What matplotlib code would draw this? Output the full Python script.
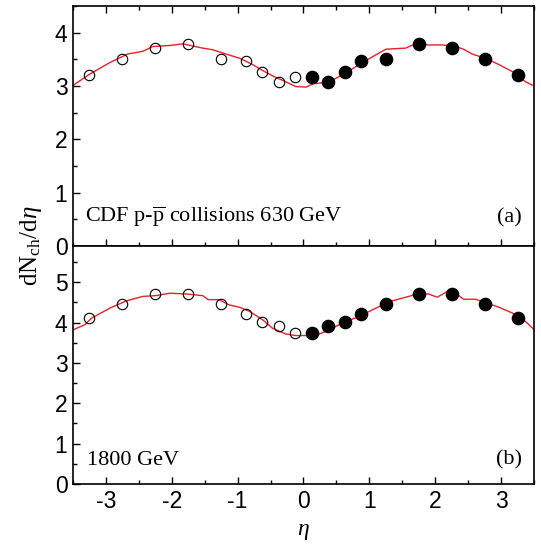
import matplotlib
matplotlib.use("Agg")
import matplotlib.pyplot as plt
from matplotlib.ticker import MultipleLocator

plt.rcParams['font.family'] = ['Liberation Sans', 'DejaVu Sans']
plt.rcParams['mathtext.fontset'] = 'custom'
plt.rcParams['mathtext.rm'] = 'Liberation Serif'
plt.rcParams['mathtext.it'] = 'Liberation Serif:italic'
plt.rcParams['mathtext.bf'] = 'Liberation Serif:bold'

# ---- data ----
eta_neg = [-3.25, -2.75, -2.25, -1.75, -1.25, -0.875, -0.625, -0.375, -0.125]
eta_pos = [0.125, 0.375, 0.625, 0.875, 1.25, 1.75, 2.25, 2.75, 3.25]

a_open = [3.21, 3.51, 3.71, 3.78, 3.51, 3.46, 3.27, 3.07, 3.16]
a_fill = [3.16, 3.07, 3.27, 3.46, 3.51, 3.78, 3.71, 3.51, 3.21]

b_open = [4.12, 4.46, 4.71, 4.71, 4.46, 4.21, 4.01, 3.91, 3.75]
b_fill = [3.75, 3.91, 4.01, 4.21, 4.46, 4.71, 4.71, 4.46, 4.12]

a_curve_x = [-3.50, -3.25, -2.94, -2.67, -2.44, -2.29, -2.03, -1.83, -1.68, -1.53,
             -1.38, -1.18, -0.97, -0.77, -0.62, -0.47, -0.27, -0.12, 0.04, 0.14,
             0.29, 0.44, 0.64, 0.84, 1.05, 1.25, 1.55, 1.70, 1.90, 2.11,
             2.31, 2.43, 2.56, 2.76, 2.97, 3.17, 3.37, 3.50]
a_curve_y = [3.01, 3.22, 3.44, 3.60, 3.65, 3.74, 3.76, 3.79, 3.75, 3.71,
             3.68, 3.60, 3.52, 3.40, 3.29, 3.19, 3.08, 2.99, 2.98, 3.04,
             3.06, 3.11, 3.24, 3.40, 3.55, 3.69, 3.71, 3.79, 3.77, 3.77,
             3.74, 3.69, 3.60, 3.52, 3.40, 3.27, 3.08, 3.00]

b_curve_x = [-3.50, -3.32, -3.22, -2.94, -2.69, -2.44, -2.24, -2.03, -1.78, -1.53,
             -1.45, -1.28, -1.13, -0.97, -0.82, -0.62, -0.47, -0.27, -0.12, 0.04,
             0.24, 0.39, 0.59, 0.84, 1.05, 1.30, 1.55, 1.73, 1.90, 2.03,
             2.18, 2.31, 2.43, 2.61, 2.76, 2.97, 3.17, 3.37, 3.50]
b_curve_y = [3.82, 3.95, 4.11, 4.36, 4.54, 4.65, 4.67, 4.73, 4.71, 4.67,
             4.57, 4.57, 4.44, 4.38, 4.28, 4.07, 3.86, 3.72, 3.68, 3.68,
             3.72, 3.82, 3.99, 4.15, 4.32, 4.52, 4.63, 4.71, 4.71, 4.63,
             4.77, 4.73, 4.58, 4.58, 4.50, 4.38, 4.24, 4.03, 3.83]

x_ticks = [-3, -2, -1, 0, 1, 2, 3]
x_ticklabels = ['-3', '-2', '-1', '0', '1', '2', '3']

# ---- figure ----
fig = plt.figure(figsize=(5.41, 5.48), dpi=100)
left, right = 73 / 541, 534 / 541
top_y, mid_y, bot_y = 1 - 6 / 548, 1 - 246 / 548, 1 - 484 / 548
ax1 = fig.add_axes([left, mid_y, right - left, top_y - mid_y])
ax2 = fig.add_axes([left, bot_y, right - left, mid_y - bot_y], sharex=ax1)

def style(ax, top=True):
    ax.set_xlim(-3.5, 3.5)
    ax.xaxis.set_major_locator(MultipleLocator(1))
    ax.xaxis.set_minor_locator(MultipleLocator(0.5))
    ax.yaxis.set_major_locator(MultipleLocator(1))
    ax.yaxis.set_minor_locator(MultipleLocator(0.5))
    ax.tick_params(which='both', direction='in', top=top, right=False,
                   labelsize=16.5, width=1.0)
    ax.tick_params(which='major', length=5, pad=4)
    ax.tick_params(which='minor', length=3)
    for s in ax.spines.values():
        s.set_linewidth(1.2)

for ax, xo, yo, xf, yf, cx, cy in [
        (ax1, eta_neg, a_open, eta_pos, a_fill, a_curve_x, a_curve_y),
        (ax2, eta_neg, b_open, eta_pos, b_fill, b_curve_x, b_curve_y)]:
    ax.plot(cx, cy, color='#e8202a', lw=1.0, zorder=2)
    ax.plot(xo, yo, 'o', ms=7.5, mfc='none', mec='black', mew=0.8, zorder=3)
    ax.plot(xf, yf, 'o', ms=8.8, mfc='black', mec='black', zorder=3)

style(ax1, top=True)
style(ax2, top=False)
ax1.set_ylim(0, 4.5)
ax2.set_ylim(0, 5.9)
ax1.tick_params(labelbottom=False)
ax2.set_xticks(x_ticks)
ax2.set_xticklabels(x_ticklabels)

ax1.text(0.026, 0.10, r'CDF p-$\overline{\mathrm{p}}$ collisions 630 GeV', transform=ax1.transAxes,
         fontsize=16, family='Liberation Serif', ha='left', va='baseline')
ax1.text(0.973, 0.10, '(a)', transform=ax1.transAxes, fontsize=16,
         family='Liberation Serif', ha='right', va='baseline')
ax2.text(0.03, 0.08, '1800 GeV', transform=ax2.transAxes,
         fontsize=16, family='Liberation Serif', ha='left', va='baseline')
ax2.text(0.973, 0.08, '(b)', transform=ax2.transAxes, fontsize=16,
         family='Liberation Serif', ha='right', va='baseline')

fig.text(0.058, mid_y, r'dN$_{\mathrm{ch}}$/d$\eta$', rotation=90, fontsize=18,
         ha='center', va='center', family='Liberation Serif')
ax2.set_xlabel(r'$\eta$', fontsize=17, labelpad=5)

fig.savefig('out.png', dpi=100)
